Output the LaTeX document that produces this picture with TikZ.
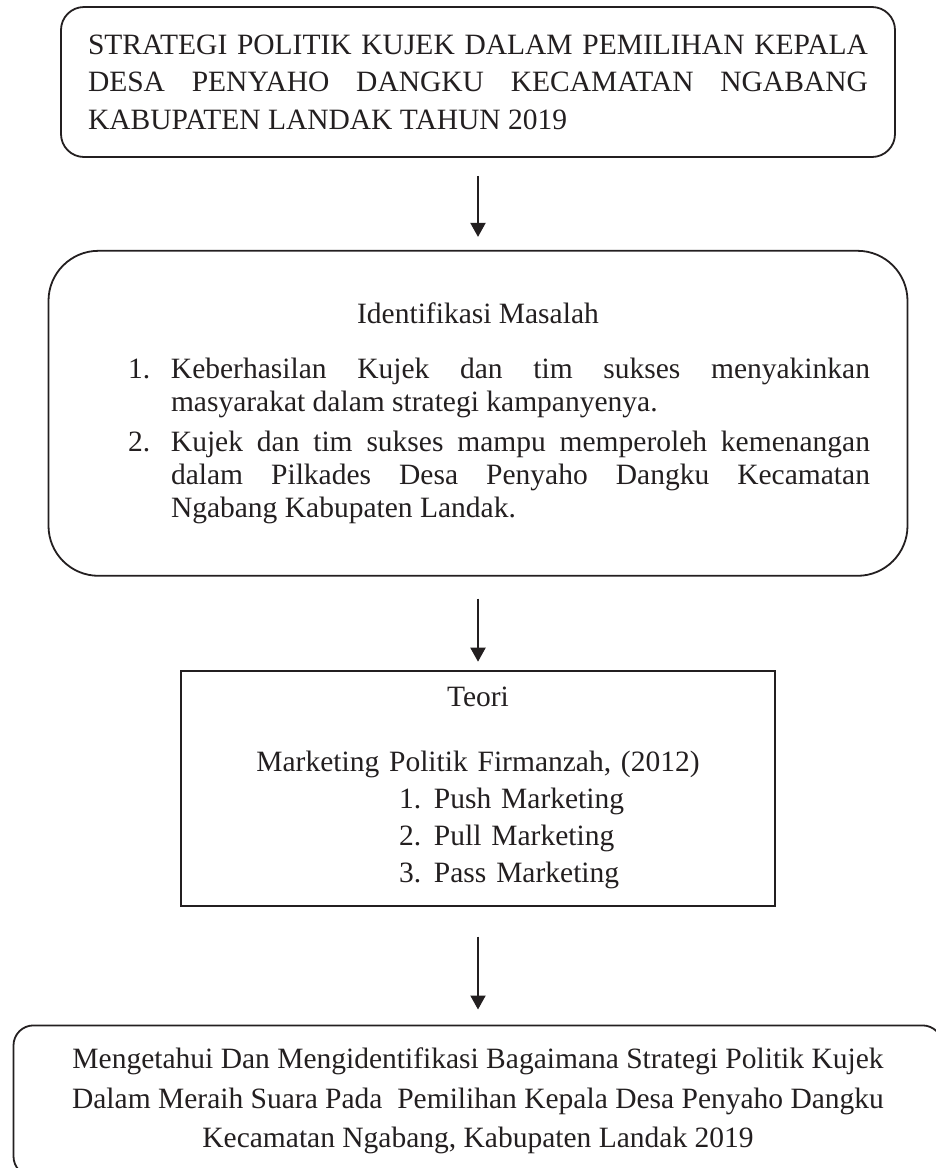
\documentclass[tikz,border=0pt]{standalone}
\usepackage{fontspec}
\setmainfont{Liberation Serif}
\usetikzlibrary{arrows.meta, positioning}
\definecolor{tinta}{HTML}{231F20}
\tolerance=10000
\hbadness=10000
\setlength{\parindent}{0pt}

% butir daftar bernomor dengan indentasi gantung
\newcommand{\butir}[3][43pt]{\par\noindent\hangindent=#1\hangafter=1\makebox[#1][l]{#2}#3}

\begin{document}
\begin{tikzpicture}[
  x=1pt, y=1pt,
  >={Triangle[length=14pt, width=15pt]},
  box/.style={draw=tinta, text=tinta, line width=1.8pt, inner sep=0pt, font=\fontsize{29.5}{37.5}\selectfont},
  judulbox/.style={box, rounded corners=23pt, align=justify},
  masalahbox/.style={box, rounded corners=50pt, align=justify},
  teoribox/.style={box, align=left, font=\fontsize{29.5}{37}\selectfont},
  hasilbox/.style={box, rounded corners=20pt, align=center, font=\fontsize{29.5}{39.5}\selectfont},
  arrow/.style={->, line width=2pt, draw=tinta}
]
  \useasboundingbox (0,0) rectangle (935,-1168);

  % Judul penelitian
  \node[judulbox, minimum width=834pt, minimum height=150pt, text width=780pt] (judul) at (478,-82)
    {STRATEGI POLITIK KUJEK DALAM PEMILIHAN KEPALA\linebreak
     DESA PENYAHO DANGKU KECAMATAN NGABANG\linebreak
     KABUPATEN LANDAK TAHUN 2019};

  % Identifikasi masalah
  \node[masalahbox, below=92pt of judul, minimum width=859pt, minimum height=325pt, text width=784pt] (masalah)
    {{\centering Identifikasi Masalah\par}
     \vspace{22pt}
     {\baselineskip=33pt\leftskip=42pt
     \butir{1.}{Keberhasilan Kujek dan tim sukses menyakinkan\linebreak masyarakat dalam strategi kampanyenya.}\par
     \vspace{7pt}
     \butir{2.}{Kujek dan tim sukses mampu memperoleh kemenangan\linebreak dalam Pilkades Desa Penyaho Dangku Kecamatan\linebreak Ngabang Kabupaten Landak.}\par}};

  % Teori
  \node[teoribox, below=93pt of masalah, minimum width=594pt, minimum height=235pt, text width=594pt] (teori)
    {{\centering Teori\par}
     \vspace{28pt}
     {\centering Marketing Politik Firmanzah, (2012)\par}
     {\leftskip=218pt
     \butir[35pt]{1.}{Push Marketing}
     \butir[35pt]{2.}{Pull Marketing}
     \butir[35pt]{3.}{Pass Marketing}\par}};

  % Tujuan
  \node[hasilbox, below=118pt of teori, minimum width=929pt, minimum height=151pt] (hasil)
    {Mengetahui Dan Mengidentifikasi Bagaimana Strategi Politik Kujek\\
     Dalam Meraih Suara Pada \ Pemilihan Kepala Desa Penyaho Dangku\\
     Kecamatan Ngabang, Kabupaten Landak 2019};

  % Panah
  \draw[arrow, shorten <=18pt, shorten >=13pt] (judul) -- (masalah);
  \draw[arrow, shorten <=22pt, shorten >=8pt] (masalah) -- (teori);
  \draw[arrow, shorten <=30pt, shorten >=15pt] (teori) -- (hasil);

\end{tikzpicture}
\end{document}
